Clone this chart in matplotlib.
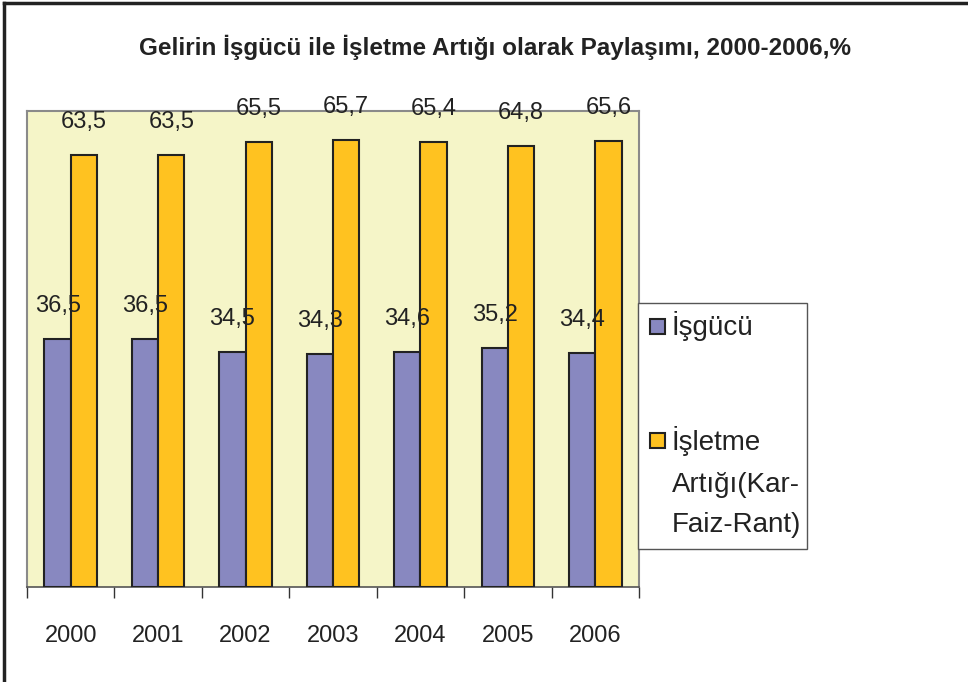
import matplotlib
matplotlib.use("Agg")
import matplotlib.pyplot as plt
from matplotlib.patches import Rectangle
from matplotlib.lines import Line2D
import numpy as np

years = ["2000", "2001", "2002", "2003", "2004", "2005", "2006"]
isgucu = [36.5, 36.5, 34.5, 34.3, 34.6, 35.2, 34.4]
isletme = [63.5, 63.5, 65.5, 65.7, 65.4, 64.8, 65.6]
labels_isgucu = ["36,5", "36,5", "34,5", "34,3", "34,6", "35,2", "34,4"]
labels_isletme = ["63,5", "63,5", "65,5", "65,7", "65,4", "64,8", "65,6"]
legend_lines = [["İşgücü"], ["İşletme", "Artığı(Kar-", "Faiz-Rant)"]]
title = "Gelirin İşgücü ile İşletme Artığı olarak Paylaşımı, 2000-2006,%"

plt.rcParams['font.family'] = ['Liberation Sans', 'DejaVu Sans']

W, H = 968, 682
fig = plt.figure(figsize=(W / 100, H / 100), dpi=100)
fig.patch.set_facecolor("white")

def fx(px):
    return px / W

def fy(py):
    return 1 - py / H

# outer frame (top and left visible)
fig.add_artist(Line2D([fx(4), fx(4)], [0, fy(3)], transform=fig.transFigure,
                      color="#222222", linewidth=2.5))
fig.add_artist(Line2D([fx(4), 1], [fy(3), fy(3)], transform=fig.transFigure,
                      color="#222222", linewidth=2.5))

left, right, top, bottom = 27, 639, 111, 587
ax = fig.add_axes([fx(left), fy(bottom), (right - left) / W, (bottom - top) / H])
ax.set_facecolor("#F5F5C8")

purple = "#8888C0"
orange = "#FFC220"
x = np.arange(len(years))
w = 0.3
ax.bar(x - w / 2, isgucu, w, color=purple, edgecolor="#222222", linewidth=1.5, zorder=3)
ax.bar(x + w / 2, isletme, w, color=orange, edgecolor="#222222", linewidth=1.5, zorder=3)

for i in range(len(years)):
    ax.annotate(labels_isgucu[i], (x[i] - w / 2, isgucu[i]), xytext=(0, 33),
                textcoords="offset pixels", ha="center", va="center",
                fontsize=17, color="#222222", zorder=4)
    ax.annotate(labels_isletme[i], (x[i] + w / 2, isletme[i]), xytext=(0, 33),
                textcoords="offset pixels", ha="center", va="center",
                fontsize=17, color="#222222", zorder=4, annotation_clip=False)

ax.set_xlim(-0.5, len(years) - 0.5)
ax.set_ylim(0, 70)
ax.set_yticks([])
ax.set_xticks(np.arange(len(years) + 1) - 0.5, minor=False)
ax.set_xticklabels([])
ax.set_xticks(x, minor=True)
ax.set_xticklabels(years, minor=True, fontsize=17, color="#222222")
ax.tick_params(axis="x", which="major", length=8, width=1, color="#333333", direction="out")
ax.tick_params(axis="x", which="minor", length=0, pad=27)
for s in ["left", "right", "top"]:
    ax.spines[s].set_color("#8A8A8A")
    ax.spines[s].set_linewidth(1.5)
ax.spines["bottom"].set_color("#555555")
ax.spines["bottom"].set_linewidth(1.2)

fig.text(fx((135 + 855) / 2), fy(47), title, ha="center", va="center",
         fontsize=17.5, fontweight="bold", color="#222222")

# legend box (manual layout)
lx0, lx1, ly0, ly1 = 638, 807, 303, 549
fig.add_artist(Rectangle((fx(lx0), fy(ly1)), (lx1 - lx0) / W, (ly1 - ly0) / H,
                         transform=fig.transFigure, facecolor="white",
                         edgecolor="#555555", linewidth=1.0, zorder=5))
handle_tops = [319, 433]
handle_colors = [purple, orange]
text_baselines = [[335], [450, 492, 532]]
for k in range(2):
    fig.add_artist(Rectangle((fx(650), fy(handle_tops[k] + 15)), 15 / W, 15 / H,
                             transform=fig.transFigure, facecolor=handle_colors[k],
                             edgecolor="#222222", linewidth=1.5, zorder=6))
    for j, line in enumerate(legend_lines[k]):
        fig.text(fx(672), fy(text_baselines[k][j]), line, ha="left", va="baseline",
                 fontsize=20, color="#222222", zorder=7)

fig.savefig("out.png", dpi=100)
